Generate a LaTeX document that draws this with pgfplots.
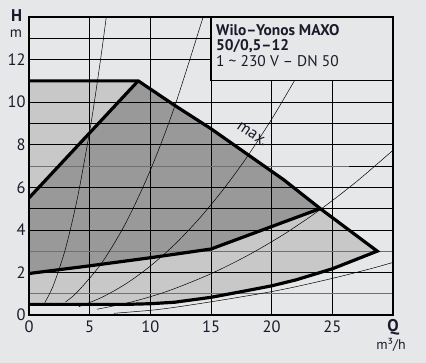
\documentclass[border=0pt]{standalone}
\usepackage{pgfplots}
\pgfplotsset{compat=1.18}
\usepackage{fontspec}
\setmainfont{PT Sans}
\definecolor{bg}{HTML}{E6E7E8}
\definecolor{lightfill}{HTML}{C8C8C8}
\definecolor{darkfill}{HTML}{999999}
\definecolor{gridgray}{HTML}{707070}
\definecolor{txt}{HTML}{1A1A2A}
\begin{document}
\begin{tikzpicture}[x=1bp,y=1bp]
\fill[bg] (-29,-48) rectangle (397,315);
\useasboundingbox (-29,-48) rectangle (397,315);
\begin{axis}[at={(0,0)}, anchor=south west, scale only axis,
  width=364bp, height=298bp,
  xmin=0, xmax=30, ymin=0, ymax=14,
  axis on top,
  axis line style={line width=1.3pt, black},
  xtick={0,5,...,25}, ytick={0,2,...,12},
  major tick length=0pt,
  /pgf/number format/assume math mode=true,
  tick label style={font=\fontsize{16.5}{19}\selectfont, text=txt},
  xticklabel style={yshift=-2bp},
  axis background/.style={fill=bg},
]
% operating field
\addplot[fill=lightfill, draw=none] coordinates {(0,0.5) (0,11) (9,11) (12,9.85) (15,8.75) (18,7.55) (21,6.35) (24,5.0) (28.7,3.0) (25,2.17) (22,1.65) (20,1.37) (18,1.15) (15,0.83) (12,0.6) (10,0.53) (8,0.5)} -- cycle;
\addplot[fill=darkfill, draw=none] coordinates {(0,1.95) (0,5.5) (9,11) (12,9.85) (15,8.75) (18,7.55) (21,6.35) (24,5.0) (15,3.1) (10,2.69) (5,2.31)} -- cycle;
% grid
\addplot[black, line width=0.6pt] coordinates {(5,0) (5,14)};
\addplot[black, line width=0.6pt] coordinates {(10,0) (10,14)};
\addplot[black, line width=0.6pt] coordinates {(15,0) (15,14)};
\addplot[black, line width=0.6pt] coordinates {(20,0) (20,14)};
\addplot[black, line width=0.6pt] coordinates {(25,0) (25,14)};
\addplot[gridgray, line width=0.6pt] coordinates {(0,1) (30,1)};
\addplot[black, line width=0.6pt] coordinates {(0,2) (30,2)};
\addplot[gridgray, line width=0.6pt] coordinates {(0,3) (30,3)};
\addplot[black, line width=0.6pt] coordinates {(0,4) (30,4)};
\addplot[black, line width=0.6pt] coordinates {(0,5) (30,5)};
\addplot[black, line width=0.6pt] coordinates {(0,6) (30,6)};
\addplot[gridgray, line width=0.6pt] coordinates {(0,7) (26.4,7)};
\addplot[black, line width=0.6pt] coordinates {(26.4,7) (30,7)};
\addplot[black, line width=0.6pt] coordinates {(0,8) (30,8)};
\addplot[black, line width=0.6pt] coordinates {(0,9) (30,9)};
\addplot[black, line width=0.6pt] coordinates {(0,10) (30,10)};
\addplot[black, line width=0.6pt] coordinates {(0,12) (30,12)};
\addplot[black, line width=0.6pt] coordinates {(0,13) (30,13)};
% system curves
\addplot[black, line width=0.5pt, smooth] coordinates {(1.3,0.58) (2,1.38) (3,3.1) (4,5.52) (5,8.63) (5.5,10.44) (6,12.42) (6.37,14.0)};
\addplot[black, line width=0.5pt, smooth] coordinates {(3.0,0.61) (4,1.09) (6,2.45) (8,4.35) (10,6.8) (12,9.79) (14.35,14.0)};
\addplot[black, line width=0.5pt, smooth] coordinates {(4.1,0.39) (6,0.83) (8,1.47) (10,2.3) (12,3.31) (14,4.51) (16,5.89) (18,7.45) (20,9.2) (21.87,11.0)};
\addplot[black, line width=0.5pt, smooth] coordinates {(5.6,0.27) (8,0.55) (10,0.86) (12,1.24) (15,1.94) (18,2.79) (21,3.79) (24,4.95) (27,6.27) (30,7.74)};
\addplot[black, line width=0.5pt, smooth] coordinates {(7,0.08) (10,0.22) (12,0.36) (15,0.62) (18,0.9) (20,1.1) (22,1.33) (25,1.72) (28,2.15) (30,2.47)};
% title box
\addplot[fill=bg, draw=black, line width=1.2pt] coordinates {(15,11) (30,11) (30,14) (15,14)} -- cycle;
% thick curves
\addplot[black, line width=3.2pt, line join=miter] coordinates {(0,11) (9,11) (12,9.85) (15,8.75) (18,7.55) (21,6.35) (24,5.0) (28.7,3.0) (25,2.17) (22,1.65) (20,1.37) (18,1.15) (15,0.83) (12,0.6) (10,0.53) (8,0.5) (0,0.5)};
\addplot[black, line width=3.2pt] coordinates {(0,5.5) (9,11)};
\addplot[black, line width=3.2pt] coordinates {(0,1.95) (5,2.31) (10,2.69) (15,3.1) (24,5.0)};
\node[rotate=-34, font=\fontsize{16.5}{19}\selectfont, text=txt] at (axis cs:18.4,8.5) {max.};
\end{axis}
\node[font=\bfseries\fontsize{17}{20}\selectfont, text=txt] at (-12.3,299) {H};
\node[font=\fontsize{15}{18}\selectfont, text=txt] at (-13,281) {m};
\node[font=\bfseries\fontsize{17}{20}\selectfont, text=txt] at (364,-12) {Q};
\node[font=\fontsize{14}{17}\selectfont, text=txt] at (362,-30) {m³/h};
\node[anchor=base west, inner sep=0pt, font=\bfseries\fontsize{15.5}{18}\selectfont, text=txt] at (187,280) {Wilo–Yonos MAXO};
\node[anchor=base west, inner sep=0pt, font=\bfseries\fontsize{15.5}{18}\selectfont, text=txt] at (187,264.3) {50/0,5–12};
\node[anchor=base west, inner sep=0pt, font=\fontsize{15.5}{18}\selectfont, text=txt] at (187,248.5) {1 \char`~{} 230 V – DN 50};
\end{tikzpicture}
\end{document}
